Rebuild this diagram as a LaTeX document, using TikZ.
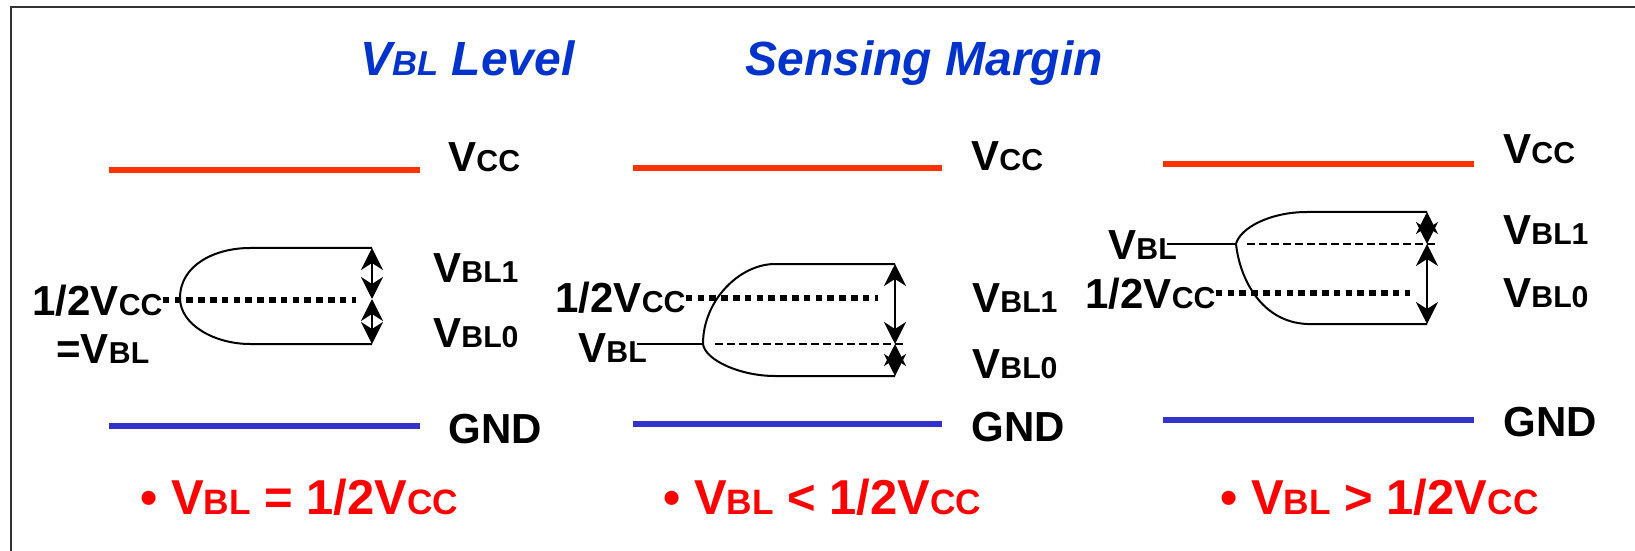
\documentclass[tikz,border=0pt]{standalone}
\usepackage{fontspec}
\setmainfont{Liberation Sans}
\usepackage{xcolor}
\usetikzlibrary{arrows.meta, positioning}

\definecolor{vccred}{RGB}{255,51,0}
\definecolor{gndblue}{RGB}{51,51,204}
\definecolor{ttlblue}{RGB}{0,51,204}
\definecolor{notered}{RGB}{255,0,0}

% smaller capitals after the V
\makeatletter
\newcommand{\sm}[1]{{\@tempdima=\f@size pt\fontsize{0.72\@tempdima}{\@tempdima}\selectfont #1}}
\makeatother

\begin{document}
\begin{tikzpicture}[
  x=0.5pt, y=-0.5pt,
  rail/.style={line width=3pt},
  lbl/.style={anchor=base west, inner sep=0pt, font=\fontsize{21}{25}\selectfont\bfseries},
  ttl/.style={lbl, text=ttlblue, font=\fontsize{24}{28}\selectfont\bfseries\itshape},
  note/.style={lbl, text=notered, font=\fontsize{24.5}{29}\selectfont\bfseries},
  env/.style={line width=1pt},
  half/.style={line width=3pt, dash pattern=on 3.3pt off 2.6pt},
  sig/.style={line width=1pt, dash pattern=on 4pt off 2pt},
  stub/.style={line width=1.1pt},
  marg/.style={{Stealth[length=11pt,width=11pt,inset=3.5pt]}-{Stealth[length=11pt,width=11pt,inset=3.5pt]}, line width=1.2pt}
]
\useasboundingbox (0,0) rectangle (1635,551);
\draw[line width=1pt, black!80] (11,560) -- (11,7) -- (1645,7);

% titles
\node[ttl] (ttlLevel) at (360,76) {V\sm{BL} Level};
\node[ttl] (ttlMargin) at (745,76) {Sensing Margin};

% panel A: VBL = 1/2Vcc
\draw[rail, vccred] (109,170) -- (420,170);
\draw[rail, gndblue] (109,426) -- (420,426);
\node[lbl] (vccA) at (448,172) {V\sm{CC}};
\node[lbl] (gndA) at (448,443) {GND};
\node[lbl] (hiA) at (433,282) {V\sm{BL1}};
\node[lbl] (loA) at (433,347) {V\sm{BL0}};
\node[lbl] (halfA) at (32,315) {1/2V\sm{CC}};
\node[lbl] (vblA) at (56,363) {=V\sm{BL}};

\coordinate (topA) at (372,248);
\coordinate (midA) at (372,299);
\coordinate (botA) at (372,344);
\coordinate (dotA) at (356,299);
\draw[env] (topA) -- (250,248) .. controls (215,248) and (180,265) .. (180,298)
  .. controls (180,325) and (215,344) .. (250,344) -- (botA);
\draw[half] (halfA.east) -- (halfA.east -| dotA);
\draw[marg] (topA) -- (midA);
\draw[marg] (midA) -- (botA);

% panel B: VBL < 1/2Vcc
\draw[rail, vccred] (633,168) -- (942,168);
\draw[rail, gndblue] (633,424) -- (942,424);
\node[lbl] (vccB) at (971,170) {V\sm{CC}};
\node[lbl] (gndB) at (971,441) {GND};
\node[lbl] (hiB) at (972,313) {V\sm{BL1}};
\node[lbl] (loB) at (972,378) {V\sm{BL0}};
\node[lbl] (halfB) at (555,313) {1/2V\sm{CC}};
\node[lbl] (vblB) at (578,362) {V\sm{BL}};

\coordinate (topB) at (895,264);
\coordinate (midB) at (895,344);
\coordinate (botB) at (895,376);
\coordinate (dotB) at (878,297);
\coordinate (stubB) at (637,344);
\coordinate (forkB) at (703,344);
\draw[env] (topB) -- (775,264) .. controls (740,264) and (703,300) .. (forkB)
  .. controls (705,360) and (740,376) .. (775,376) -- (botB);
\draw[stub] (stubB) -- (forkB);
\draw[sig] (715,344) -- (906,344);
\draw[half] (halfB.east) -- (halfB.east -| dotB);
\draw[marg] (topB) -- (midB);
\draw[marg] (midB) -- (botB);

% panel C: VBL > 1/2Vcc
\draw[rail, vccred] (1163,164) -- (1474,164);
\draw[rail, gndblue] (1163,420) -- (1474,420);
\node[lbl] (vccC) at (1503,163) {V\sm{CC}};
\node[lbl] (gndC) at (1503,436) {GND};
\node[lbl] (hiC) at (1503,244) {V\sm{BL1}};
\node[lbl] (loC) at (1503,307) {V\sm{BL0}};
\node[lbl] (halfC) at (1085,308) {1/2V\sm{CC}};
\node[lbl] (vblC) at (1108,259) {V\sm{BL}};

\coordinate (topC) at (1427,212);
\coordinate (midC) at (1427,244);
\coordinate (botC) at (1427,324);
\coordinate (dotC) at (1410,292);
\coordinate (stubC) at (1167,244);
\coordinate (forkC) at (1236,244);
\draw[env] (topC) -- (1307,212) .. controls (1270,212) and (1240,228) .. (forkC)
  .. controls (1240,280) and (1262,322) .. (1307,324) -- (botC);
\draw[stub] (stubC) -- (forkC);
\draw[sig] (1247,244) -- (1438,244);
\draw[half] (halfC.east) -- (halfC.east -| dotC);
\draw[marg] (topC) -- (midC);
\draw[marg] (midC) -- (botC);

% notes
\node[note] (noteA) at (140,514) {\textbullet\ V\sm{BL} = 1/2V\sm{CC}};
\node[note] (noteB) at (663,514) {\textbullet\ V\sm{BL} < 1/2V\sm{CC}};
\node[note] (noteC) at (1220,514) {\textbullet\ V\sm{BL} > 1/2V\sm{CC}};

\end{tikzpicture}
\end{document}
